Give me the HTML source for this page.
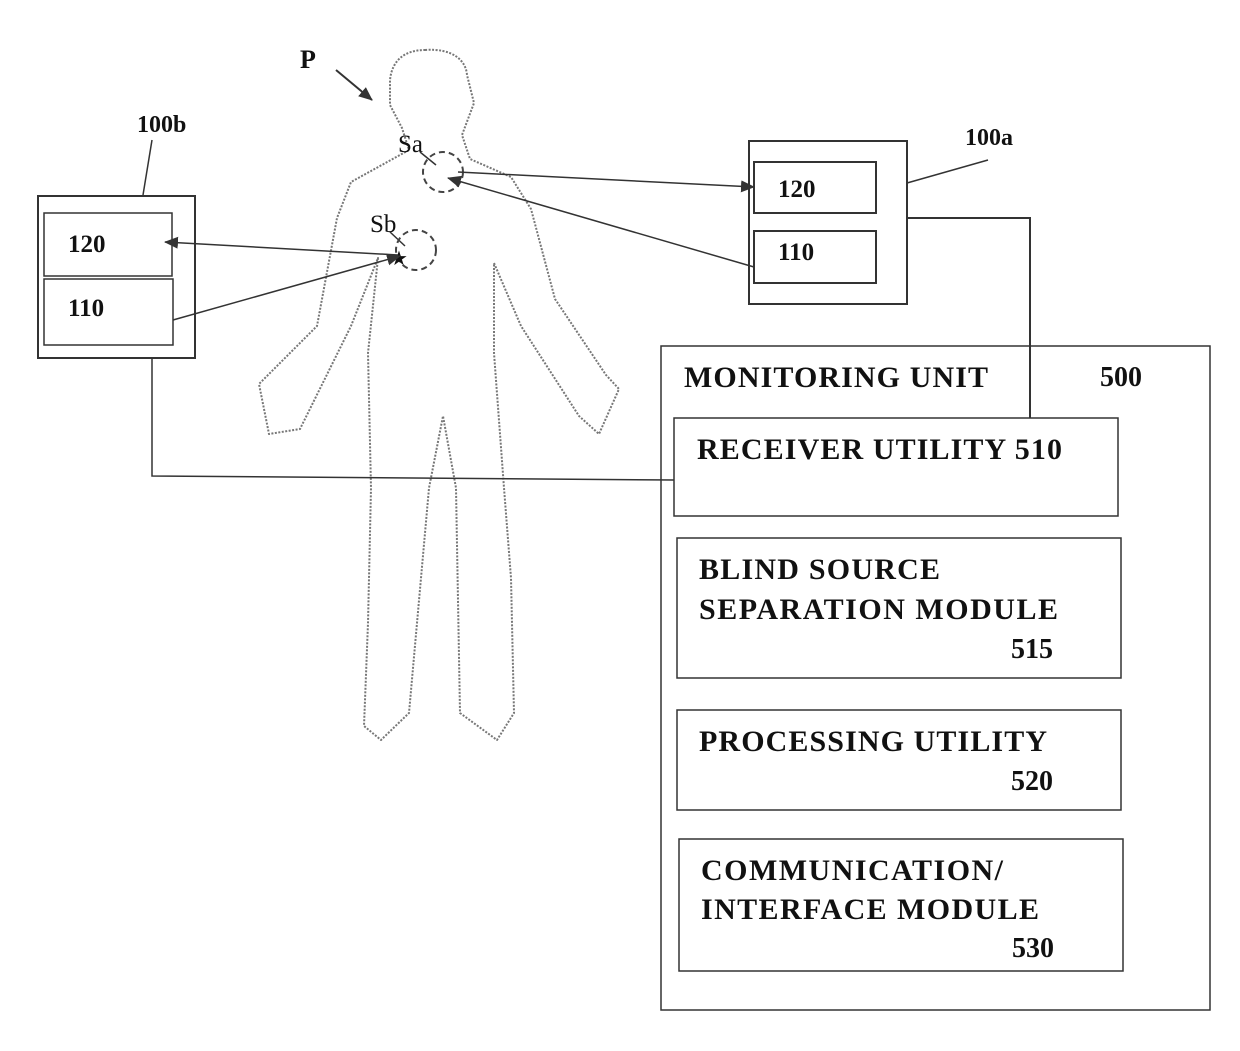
<!DOCTYPE html>
<html><head><meta charset="utf-8"><style>
html,body{margin:0;padding:0;background:#fff;}
svg{display:block;}
text{font-family:"Liberation Serif",serif;fill:#111;}
.b{font-weight:bold;}
</style></head><body>
<svg width="1240" height="1051" viewBox="0 0 1240 1051" xmlns="http://www.w3.org/2000/svg">
<defs>
<marker id="ah" markerWidth="14" markerHeight="12" refX="13" refY="6" orient="auto" markerUnits="userSpaceOnUse">
<path d="M0,0 L14,6 L0,12 Z" fill="#333"/>
</marker>
</defs>
<path d="M425,50 C452,48 466,60 467,75 L474,103 L462,135 L470,159 L511,177 L531,209 L555,299 L606,375 L619,389 L599,434 L579,416 L521,326 L494,263 L494,353 L504,488 L511,578 L514,713 L497,740 L460,713 L456,488 L443,416 L429,488 L409,713 L381,740 L364,726 L368,623 L371,488 L368,353 L378,258 L351,326 L300,429 L269,434 L259,384 L317,326 L337,218 L351,182 L409,150 L402,128 L390,105 L390,80 C392,60 405,50 425,50 Z" fill="none" stroke="#777" stroke-width="2" stroke-dasharray="2,1.5" stroke-linejoin="round"/>
<text class="b" x="300" y="68" font-size="26">P</text>
<line x1="336" y1="70" x2="372" y2="100" stroke="#333" stroke-width="2" marker-end="url(#ah)"/>
<text x="398" y="152" font-size="25">Sa</text>
<line x1="420" y1="152" x2="436" y2="165" stroke="#333" stroke-width="1.5"/>
<circle cx="443" cy="172" r="20" fill="none" stroke="#444" stroke-width="2" stroke-dasharray="6,4"/>
<text x="370" y="232" font-size="25">Sb</text>
<line x1="390" y1="232" x2="405" y2="246" stroke="#333" stroke-width="1.5"/>
<circle cx="416" cy="250" r="20" fill="none" stroke="#444" stroke-width="2" stroke-dasharray="6,4"/>
<text x="390" y="265" font-size="20" fill="#444">★</text>
<text class="b" x="137" y="132" font-size="24">100b</text>
<line x1="152" y1="140" x2="143" y2="195" stroke="#333" stroke-width="1.5"/>
<rect x="38" y="196" width="157" height="162" fill="none" stroke="#333" stroke-width="2"/>
<rect x="44" y="213" width="128" height="63" fill="none" stroke="#333" stroke-width="1.5"/>
<rect x="44" y="279" width="129" height="66" fill="none" stroke="#333" stroke-width="1.5"/>
<text class="b" x="68" y="252" font-size="25">120</text>
<text class="b" x="68" y="316" font-size="25">110</text>
<line x1="398" y1="255" x2="165" y2="242" stroke="#333" stroke-width="1.5" marker-end="url(#ah)"/>
<line x1="173" y1="320" x2="400" y2="256" stroke="#333" stroke-width="1.5" marker-end="url(#ah)"/>
<polyline points="152,358 152,476 674,480" fill="none" stroke="#333" stroke-width="1.5"/>
<text class="b" x="965" y="145" font-size="24">100a</text>
<line x1="907" y1="183" x2="988" y2="160" stroke="#333" stroke-width="1.5"/>
<rect x="749" y="141" width="158" height="163" fill="none" stroke="#333" stroke-width="2"/>
<rect x="754" y="162" width="122" height="51" fill="none" stroke="#333" stroke-width="2"/>
<rect x="754" y="231" width="122" height="52" fill="none" stroke="#333" stroke-width="2"/>
<text class="b" x="778" y="197" font-size="25">120</text>
<text class="b" x="778" y="260" font-size="25">110</text>
<line x1="458" y1="172" x2="754" y2="187" stroke="#333" stroke-width="1.5" marker-end="url(#ah)"/>
<line x1="754" y1="267" x2="448" y2="178" stroke="#333" stroke-width="1.5" marker-end="url(#ah)"/>
<polyline points="907,218 1030,218 1030,418" fill="none" stroke="#333" stroke-width="2"/>
<rect x="661" y="346" width="549" height="664" fill="none" stroke="#333" stroke-width="1.5"/>
<text class="b" font-size="30" x="684" y="387" textLength="304" lengthAdjust="spacing">MONITORING UNIT</text>
<text class="b" font-size="28" x="1100" y="386">500</text>
<text class="b" font-size="30" x="697" y="459" textLength="365" lengthAdjust="spacing">RECEIVER UTILITY 510</text>
<text class="b" font-size="30" x="699" y="579" textLength="241" lengthAdjust="spacing">BLIND SOURCE</text>
<text class="b" font-size="30" x="699" y="619" textLength="359" lengthAdjust="spacing">SEPARATION MODULE</text>
<text class="b" font-size="28" x="1011" y="658">515</text>
<text class="b" font-size="30" x="699" y="751" textLength="348" lengthAdjust="spacing">PROCESSING UTILITY</text>
<text class="b" font-size="28" x="1011" y="790">520</text>
<text class="b" font-size="30" x="701" y="880" textLength="302" lengthAdjust="spacing">COMMUNICATION/</text>
<text class="b" font-size="30" x="701" y="919" textLength="338" lengthAdjust="spacing">INTERFACE MODULE</text>
<text class="b" font-size="28" x="1012" y="957">530</text>
<rect x="674" y="418" width="444" height="98" fill="none" stroke="#333" stroke-width="1.5"/>
<rect x="677" y="538" width="444" height="140" fill="none" stroke="#333" stroke-width="1.5"/>
<rect x="677" y="710" width="444" height="100" fill="none" stroke="#333" stroke-width="1.5"/>
<rect x="679" y="839" width="444" height="132" fill="none" stroke="#333" stroke-width="1.5"/>
</svg>
</body></html>
